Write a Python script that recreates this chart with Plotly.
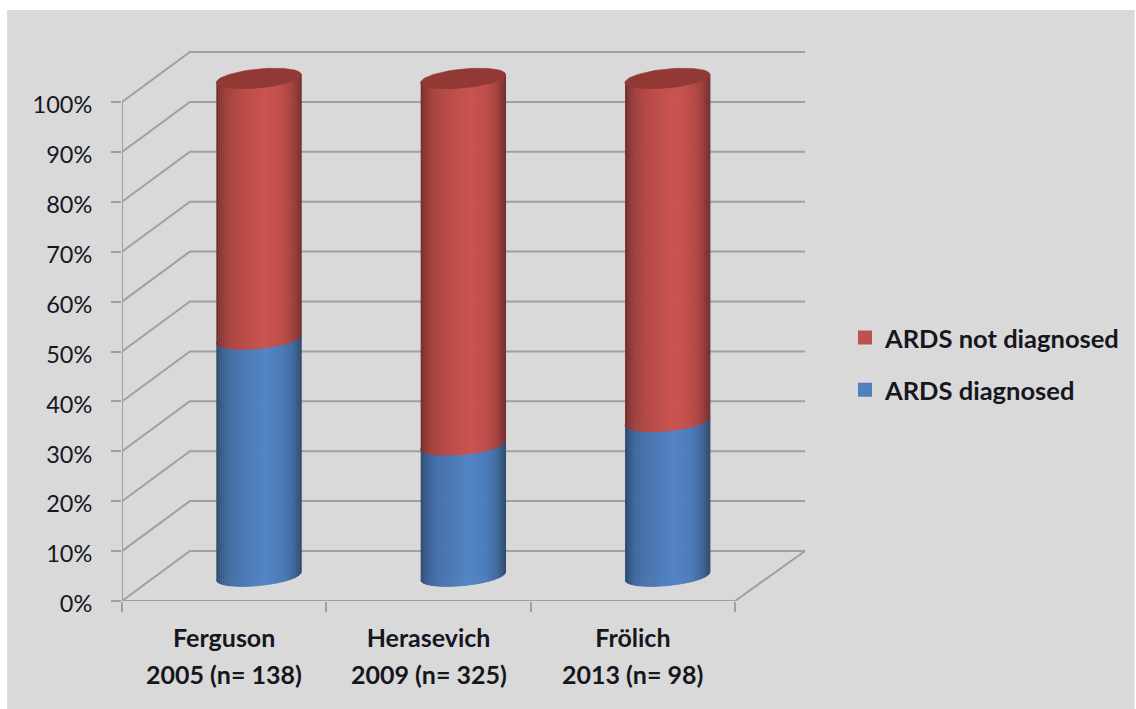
import numpy as np
import plotly.graph_objects as go

studies = ["Ferguson", "Herasevich", "Frölich"]
study_details = ["2005 (n= 138)", "2009 (n= 325)", "2013 (n= 98)"]
diagnosed = [47.5, 26.3, 31]
not_diagnosed = [52.2, 73.4, 68.7]
y_ticks = [0, 10, 20, 30, 40, 50, 60, 70, 80, 90, 100]
y_labels = ["0%", "10%", "20%", "30%", "40%", "50%", "60%", "70%", "80%", "90%", "100%"]
name_diag = "ARDS diagnosed"
name_not = "ARDS not diagnosed"

BLUE = (83, 133, 198)
RED = (204, 84, 80)
RED_CAP = "#923835"
BG = "#d9d9d9"
GRID = "#a0a0a0"
TEXT = "#16161e"
FONT = "Lato"

# geometry (pixels → data)
L, R, T, B = 122, 806, 51, 601
PX = (736 - 122) / 3
PY = (601 - 102) / 100
DX = 68 / PX
DY = 50 / PY
XMAX = (R - L) / PX - 0.5
YMAX = (B - T) / PY
CX = DX / 2 + 0.003
CY = DY / 2
RAD = 42.5 / PX
ELL_B = 9.5 / PY
ELL_S = 4 / PY

fig = go.Figure()

# depth grid
gx, gy = [], []
for v in y_ticks:
    gx += [-0.5, -0.5 + DX, XMAX, None]
    gy += [v, v + DY, v + DY, None]
fig.add_trace(go.Scatter(x=gx, y=gy, mode="lines", line=dict(color=GRID, width=2),
                         showlegend=False, hoverinfo="skip", cliponaxis=False))
# left wall + floor front and right edge
fig.add_trace(go.Scatter(x=[-0.5, -0.5, 2.5, 2.5 + DX * 70 / 68],
                         y=[100, 0, 0, DY],
                         mode="lines", line=dict(color=GRID, width=2),
                         showlegend=False, hoverinfo="skip", cliponaxis=False))

# bars carrying the data and the legend, covered by the shaded cylinders
cxs = [i + CX for i in range(len(studies))]
fig.add_trace(go.Bar(x=cxs, y=not_diagnosed, base=[CY + v for v in diagnosed], width=RAD * 1.7,
                     name=name_not, legendgroup="a",
                     marker=dict(color="rgb(192,80,77)", line=dict(color="rgb(192,80,77)", width=2))))
fig.add_trace(go.Bar(x=cxs, y=diagnosed, base=CY, width=RAD * 1.7,
                     name=name_diag, legendgroup="b",
                     marker=dict(color="rgb(79,129,189)", line=dict(color="rgb(79,129,189)", width=2))))

# cylinder shading
SH_X = [0, 0.05, 0.12, 0.25, 0.58, 0.78, 0.90, 0.96, 1]
SH_F = [0.55, 0.68, 0.80, 0.88, 1.0, 0.93, 0.80, 0.66, 0.55]
N = 43


def shade(col, f):
    return "rgb(%d,%d,%d)" % tuple(int(round(c * f)) for c in col)


def front(c, u):
    co = 2 * u - 1
    si = np.sqrt(max(0.0, 1 - co * co))
    return c - ELL_B * si + ELL_S * co


def strip(cx, lo, hi, col):
    for k in range(N):
        u0, u1 = k / N, (k + 1) / N
        us = np.linspace(u0, u1, 6)
        xs = [cx + RAD * (2 * u - 1) for u in us]
        ylo = [front(lo, u) for u in us]
        yhi = [front(hi, u) for u in us]
        c = shade(col, float(np.interp((u0 + u1) / 2, SH_X, SH_F)))
        fig.add_trace(go.Scatter(x=xs + xs[::-1], y=ylo + yhi[::-1], mode="lines", fill="toself",
                                 fillcolor=c, line=dict(color=c, width=1),
                                 showlegend=False, hoverinfo="skip"))


for cx, d, n in zip(cxs, diagnosed, not_diagnosed):
    strip(cx, CY, CY + d, BLUE)
    strip(cx, CY + d, CY + d + n, RED)
    t = np.linspace(0, 2 * np.pi, 80)
    fig.add_trace(go.Scatter(x=cx + RAD * np.cos(t),
                             y=CY + d + n + ELL_S * np.cos(t) + ELL_B * np.sin(t),
                             mode="lines", fill="toself", fillcolor=RED_CAP,
                             line=dict(color=RED_CAP, width=0.6),
                             showlegend=False, hoverinfo="skip"))

annotations = [dict(x=i, y=0, xref="x", yref="y", yshift=-73, text=t, showarrow=False,
                    yanchor="middle", xanchor="center",
                    font=dict(family=FONT, size=25, color=TEXT, weight="bold"))
               for i, t in enumerate(study_details)]

fig.update_layout(
    width=1136, height=709, autosize=False,
    margin=dict(l=L, r=1136 - R, t=T, b=709 - B, pad=0),
    paper_bgcolor="white", plot_bgcolor="rgba(0,0,0,0)",
    barmode="overlay", showlegend=True,
    font=dict(family=FONT, color=TEXT),
    legend=dict(x=(845 - L) / (R - L), y=(B - 364) / (B - T), xanchor="left", yanchor="middle",
                tracegroupgap=16, bgcolor="rgba(0,0,0,0)",
                font=dict(family=FONT, size=25.5, color=TEXT, weight="bold")),
    shapes=[dict(type="rect", xref="paper", yref="paper", layer="below",
                 x0=(7 - L) / (R - L), x1=(1136 - L) / (R - L),
                 y0=(B - 709) / (B - T), y1=(B - 10) / (B - T),
                 fillcolor=BG, line=dict(width=0))],
    annotations=annotations,
    xaxis=dict(range=[-0.5, XMAX], showgrid=False, zeroline=False, showline=False,
               tickvals=list(range(len(studies))), ticktext=studies, ticks="", ticklabelstandoff=20,
               tickfont=dict(family=FONT, size=25, color=TEXT, weight="bold"),
               minor=dict(tickvals=[-0.5, 0.5, 1.5, 2.5], ticks="outside", ticklen=10,
                          tickcolor=GRID, tickwidth=2)),
    yaxis=dict(range=[0, YMAX], showgrid=False, zeroline=False, showline=False,
               tickvals=y_ticks, ticktext=y_labels, ticks="outside", ticklen=10,
               tickcolor=GRID, tickwidth=2, ticklabelstandoff=14, ticklabelshift=3,
               tickfont=dict(family=FONT, size=23.5, color=TEXT)),
)

fig.write_html("out.html", config={"displayModeBar": False},
               post_script="document.body.style.margin='0';")
